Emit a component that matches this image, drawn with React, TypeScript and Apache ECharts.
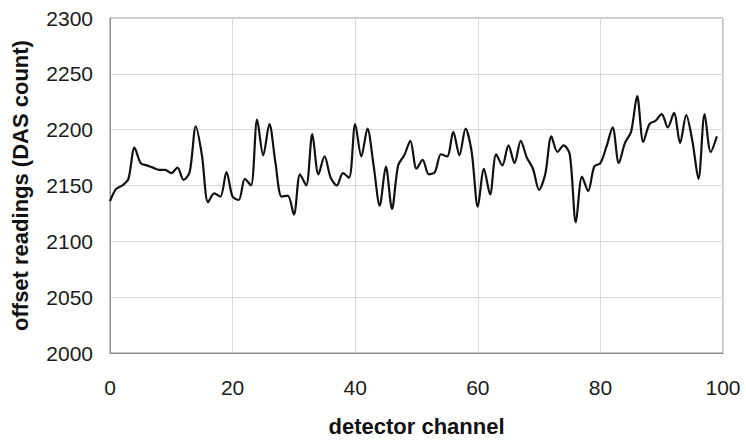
import React, { useEffect, useRef } from "react";
import * as echarts from "echarts";

const channels: number[] = Array.from({ length: 100 }, (_, i) => i);
const readings: number[] = [
  2136, 2147, 2150, 2156, 2184, 2170, 2168, 2166, 2164, 2164,
  2161, 2166, 2155, 2162, 2203, 2177, 2135, 2143, 2140, 2162,
  2140, 2137, 2156, 2150, 2209, 2177, 2205, 2170, 2140, 2141,
  2124, 2160, 2150, 2196, 2160, 2176, 2157, 2150, 2161, 2157,
  2205, 2176, 2201, 2168, 2132, 2167, 2129, 2168, 2177, 2190,
  2165, 2173, 2160, 2162, 2178, 2176, 2198, 2177, 2201, 2180,
  2131, 2165, 2142, 2178, 2168, 2186, 2170, 2190, 2175, 2165,
  2146, 2160, 2194, 2180, 2186, 2178, 2117, 2158, 2145, 2167,
  2170, 2185, 2202, 2170, 2188, 2198, 2230, 2189, 2205, 2208,
  2214, 2202, 2215, 2188, 2213, 2190, 2156, 2214, 2180, 2194,
];
const xTicks = { min: 0, max: 100, interval: 20 };
const yTicks = { min: 2000, max: 2300, interval: 50 };
const xName = "detector channel";
const yName = "offset readings (DAS count)";

const FONT = "'Liberation Sans', Arial, Helvetica, sans-serif";

export default function App() {
  const ref = useRef<HTMLDivElement>(null);
  useEffect(() => {
    document.body.style.margin = "0";
    if (!ref.current) return;
    const chart = echarts.init(ref.current, undefined, { renderer: "svg" });
    chart.setOption({
      animation: false,
      backgroundColor: "#ffffff",
      grid: {
        left: 110,
        right: 23,
        top: 18,
        bottom: 85,
        show: true,
        borderColor: "#8c8c8c",
        borderWidth: 1,
        backgroundColor: "transparent",
      },
      xAxis: {
        type: "value",
        min: xTicks.min,
        max: xTicks.max,
        interval: xTicks.interval,
        name: xName,
        nameLocation: "middle",
        nameGap: 62,
        nameTextStyle: { fontFamily: FONT, fontSize: 22, fontWeight: "bold", color: "#111" },
        axisLine: { show: true, lineStyle: { color: "#8c8c8c", width: 1 } },
        axisTick: { show: false },
        axisLabel: {
          fontFamily: FONT,
          fontSize: 21,
          color: "#1a1a1a",
          margin: 24,
          formatter: (v: number) => String(v),
        },
        splitLine: { show: true, lineStyle: { color: "#d9d9d9", width: 1 } },
      },
      yAxis: {
        type: "value",
        min: yTicks.min,
        max: yTicks.max,
        interval: yTicks.interval,
        name: yName,
        nameLocation: "middle",
        nameGap: 79,
        nameTextStyle: { fontFamily: FONT, fontSize: 22, fontWeight: "bold", color: "#111" },
        axisLine: { show: true, lineStyle: { color: "#8c8c8c", width: 1 } },
        axisTick: { show: false },
        axisLabel: {
          fontFamily: FONT,
          fontSize: 21,
          color: "#1a1a1a",
          margin: 17,
          formatter: (v: number) => String(v),
        },
        splitLine: { show: true, lineStyle: { color: "#d9d9d9", width: 1 } },
      },
      series: [
        {
          type: "line",
          data: channels.map((c, i) => [c, readings[i]]),
          showSymbol: false,
          smooth: 0.3,
          lineStyle: { color: "#111111", width: 2.2 },
        },
      ],
    });
    return () => chart.dispose();
  }, []);
  return <div ref={ref} style={{ width: 746, height: 442 }} />;
}
